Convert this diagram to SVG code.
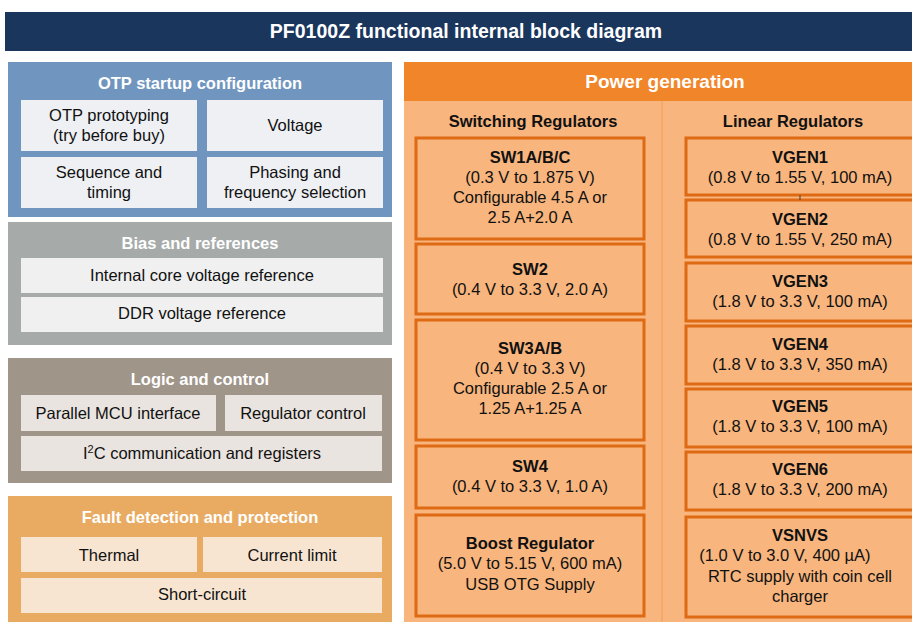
<svg xmlns="http://www.w3.org/2000/svg" width="912" height="622" viewBox="0 0 912 622">
<style>
text{font-family:"Liberation Sans",Arial,sans-serif;text-anchor:middle;}
.t{font-size:16.5px;fill:#111;}
.b{font-size:16.5px;font-weight:bold;fill:#111;}
.h{font-size:16.5px;font-weight:bold;fill:#fff;}
.reg{fill:#f8b57d;stroke:#de6a14;stroke-width:3;}
</style>
<rect width="912" height="622" fill="#fff"/>
<g id="title">
<rect x="5" y="12" width="910" height="39" fill="#1b365d"/>
<text x="466" y="38" style="font-size:19.5px;font-weight:bold;fill:#fff">PF0100Z functional internal block diagram</text>
</g>
<g id="otp">
<rect x="8" y="62" width="384" height="155" fill="#7096c0"/>
<text class="h" x="200" y="89">OTP startup configuration</text>
<rect x="21" y="100" width="176" height="51" fill="#eef0f4"/>
<rect x="207" y="100" width="176" height="51" fill="#eef0f4"/>
<rect x="21" y="157" width="176" height="51" fill="#eef0f4"/>
<rect x="207" y="157" width="176" height="51" fill="#eef0f4"/>
<text class="t" x="109" y="121">OTP prototyping</text>
<text class="t" x="109" y="141">(try before buy)</text>
<text class="t" x="295" y="131">Voltage</text>
<text class="t" x="109" y="178">Sequence and</text>
<text class="t" x="109" y="198">timing</text>
<text class="t" x="295" y="178">Phasing and</text>
<text class="t" x="295" y="198">frequency selection</text>
</g>
<g id="bias">
<rect x="8" y="222" width="384" height="123" fill="#a6abaa"/>
<text class="h" x="200" y="249">Bias and references</text>
<rect x="21" y="258" width="362" height="35" fill="#f0f0f0"/>
<rect x="21" y="297" width="362" height="35" fill="#f0f0f0"/>
<text class="t" x="202" y="281">Internal core voltage reference</text>
<text class="t" x="202" y="319">DDR voltage reference</text>
</g>
<g id="logic">
<rect x="8" y="358" width="384" height="125" fill="#a09589"/>
<text class="h" x="200" y="385">Logic and control</text>
<rect x="21" y="395" width="195" height="36" fill="#e9e4df"/>
<rect x="225" y="395" width="157" height="36" fill="#e9e4df"/>
<rect x="21" y="436" width="361" height="35" fill="#e9e4df"/>
<text class="t" x="118" y="419">Parallel MCU interface</text>
<text class="t" x="303" y="419">Regulator control</text>
<text class="t" x="202" y="459">I<tspan font-size="11" dy="-6">2</tspan><tspan dy="6">C communication and registers</tspan></text>
</g>
<g id="fault">
<rect x="8" y="496" width="384" height="130" fill="#e9ab62"/>
<text class="h" x="200" y="523">Fault detection and protection</text>
<rect x="21" y="537" width="176" height="35" fill="#f8e5d1"/>
<rect x="203" y="537" width="179" height="35" fill="#f8e5d1"/>
<rect x="21" y="578" width="361" height="35" fill="#f8e5d1"/>
<text class="t" x="109" y="561">Thermal</text>
<text class="t" x="292" y="561">Current limit</text>
<text class="t" x="202" y="600">Short-circuit</text>
</g>
<g id="power">
<rect x="404" y="101" width="512" height="525" fill="#f8b57d"/>
<rect x="404" y="62" width="512" height="39" fill="#f0852a"/>
<text x="665" y="88" style="font-size:19px;font-weight:bold;fill:#fff">Power generation</text>
<line x1="662" y1="101" x2="662" y2="626" stroke="#f29c58" stroke-width="1"/>
<text class="b" x="533" y="127">Switching Regulators</text>
<text class="b" x="793" y="127">Linear Regulators</text>
</g>
<g id="sw1">
<rect class="reg" x="416" y="138" width="228" height="101"/>
<text class="b" x="530" y="163">SW1A/B/C</text>
<text class="t" x="530" y="183">(0.3 V to 1.875 V)</text>
<text class="t" x="530" y="203">Configurable 4.5 A or</text>
<text class="t" x="530" y="223">2.5 A+2.0 A</text>
</g>
<g id="sw2">
<rect class="reg" x="416" y="244" width="228" height="70"/>
<text class="b" x="530" y="275">SW2</text>
<text class="t" x="530" y="295">(0.4 V to 3.3 V, 2.0 A)</text>
</g>
<g id="sw3">
<rect class="reg" x="416" y="320" width="228" height="120"/>
<text class="b" x="530" y="354">SW3A/B</text>
<text class="t" x="530" y="374">(0.4 V to 3.3 V)</text>
<text class="t" x="530" y="394">Configurable 2.5 A or</text>
<text class="t" x="530" y="414">1.25 A+1.25 A</text>
</g>
<g id="sw4">
<rect class="reg" x="416" y="446" width="228" height="62"/>
<text class="b" x="530" y="472">SW4</text>
<text class="t" x="530" y="492">(0.4 V to 3.3 V, 1.0 A)</text>
</g>
<g id="boost">
<rect class="reg" x="416" y="515" width="228" height="101"/>
<text class="b" x="530" y="549">Boost Regulator</text>
<text class="t" x="530" y="569">(5.0 V to 5.15 V, 600 mA)</text>
<text class="t" x="530" y="590">USB OTG Supply</text>
</g>
<g id="vgen1">
<rect class="reg" x="686" y="138" width="230" height="57"/>
<text class="b" x="800" y="163">VGEN1</text>
<text class="t" x="800" y="183">(0.8 V to 1.55 V, 100 mA)</text>
</g>
<g id="vgen2">
<rect class="reg" x="686" y="200" width="230" height="57"/>
<text class="b" x="800" y="225">VGEN2</text>
<text class="t" x="800" y="245">(0.8 V to 1.55 V, 250 mA)</text>
</g>
<g id="vgen3">
<rect class="reg" x="686" y="263" width="230" height="58"/>
<text class="b" x="800" y="287">VGEN3</text>
<text class="t" x="800" y="307">(1.8 V to 3.3 V, 100 mA)</text>
</g>
<g id="vgen4">
<rect class="reg" x="686" y="326" width="230" height="58"/>
<text class="b" x="800" y="350">VGEN4</text>
<text class="t" x="800" y="370">(1.8 V to 3.3 V, 350 mA)</text>
</g>
<g id="vgen5">
<rect class="reg" x="686" y="389" width="230" height="58"/>
<text class="b" x="800" y="412">VGEN5</text>
<text class="t" x="800" y="432">(1.8 V to 3.3 V, 100 mA)</text>
</g>
<g id="vgen6">
<rect class="reg" x="686" y="452" width="230" height="58"/>
<text class="b" x="800" y="475">VGEN6</text>
<text class="t" x="800" y="495">(1.8 V to 3.3 V, 200 mA)</text>
</g>
<g id="vsnvs">
<rect class="reg" x="686" y="517" width="230" height="100"/>
<text class="b" x="800" y="541">VSNVS</text>
<text class="t" x="785" y="561">(1.0 V to 3.0 V, 400 µA)</text>
<text class="t" x="800" y="582">RTC supply with coin cell</text>
<text class="t" x="800" y="602">charger</text>
</g>
<g id="connectors">
<line x1="800" y1="195" x2="800" y2="200" stroke="#6a4a30" stroke-width="1.2"/>
</g>
</svg>
